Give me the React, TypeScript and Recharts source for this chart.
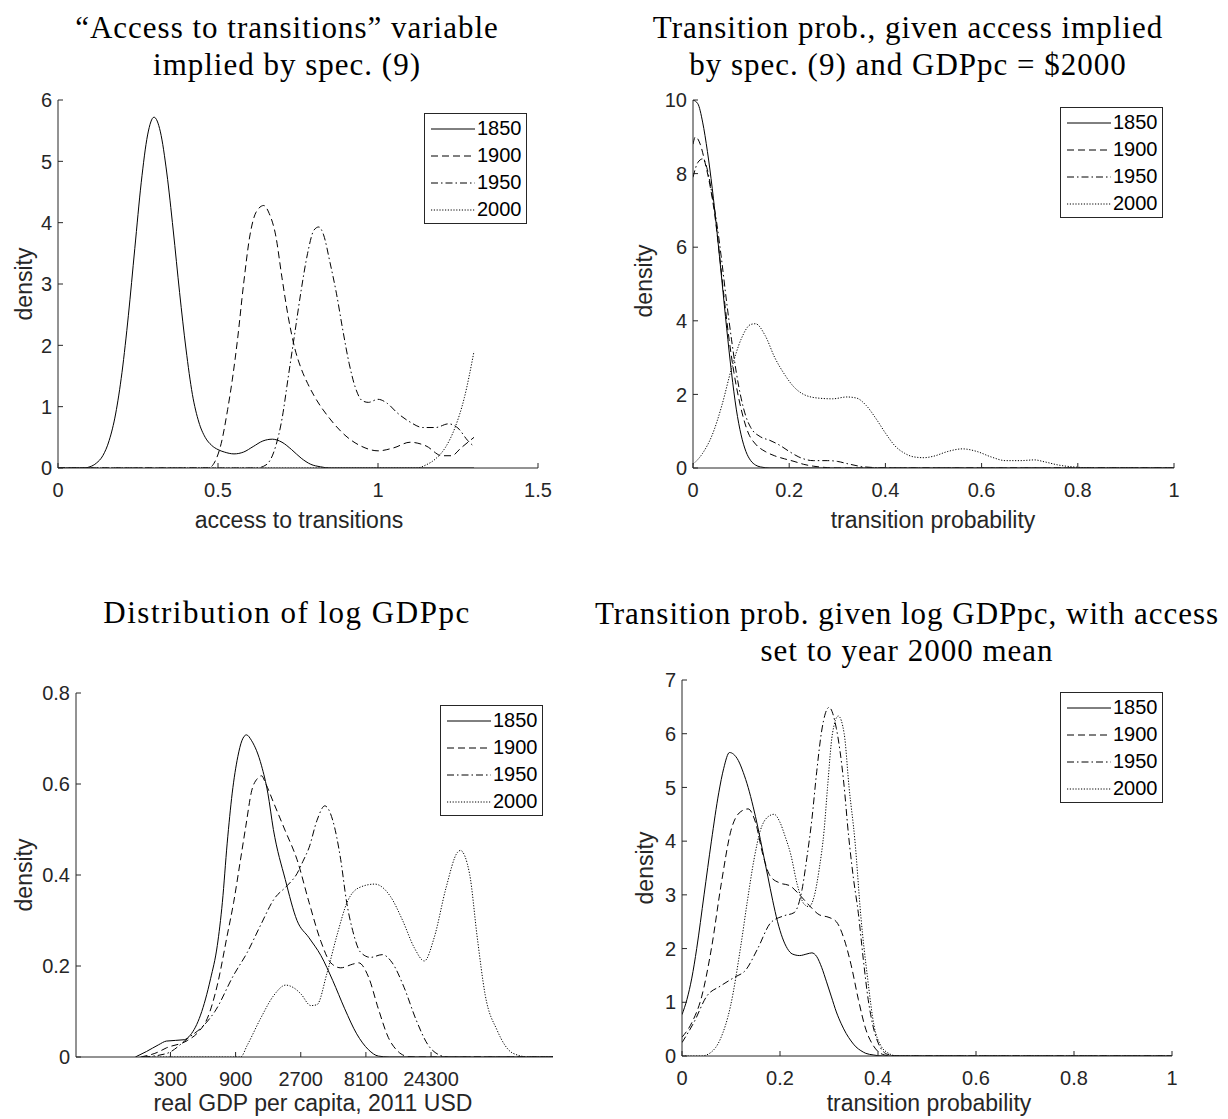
import React from "react";
import { LineChart, Line, XAxis, YAxis } from "recharts";

// [x, density] pairs, one array per year and panel
const access1850 = [[0,0],[0.08,0],[0.1,0.02],[0.12,0.08],[0.14,0.2],[0.16,0.45],[0.18,0.88],[0.2,1.56],[0.22,2.49],[0.24,3.58],[0.26,4.65],[0.28,5.43],[0.3,5.72],[0.32,5.48],[0.34,4.81],[0.36,3.88],[0.38,2.86],[0.4,1.94],[0.42,1.2],[0.44,0.75],[0.46,0.5],[0.48,0.37],[0.5,0.3],[0.52,0.26],[0.55,0.23],[0.58,0.26],[0.61,0.35],[0.64,0.44],[0.67,0.47],[0.7,0.42],[0.73,0.3],[0.76,0.16],[0.79,0.06],[0.82,0.02],[0.85,0],[1.3,0]];
const access1900 = [[0,0],[0.47,0],[0.49,0.1],[0.51,0.4],[0.53,0.95],[0.545,1.45],[0.56,2.05],[0.58,3.0],[0.6,3.8],[0.62,4.18],[0.643,4.28],[0.66,4.15],[0.68,3.8],[0.7,3.1],[0.72,2.45],[0.74,1.95],[0.76,1.62],[0.78,1.38],[0.8,1.18],[0.85,0.8],[0.9,0.52],[0.95,0.35],[1.0,0.28],[1.05,0.33],[1.1,0.42],[1.15,0.36],[1.2,0.2],[1.23,0.2],[1.26,0.33],[1.3,0.5]];
const access1950 = [[0,0],[0.62,0],[0.65,0.05],[0.68,0.35],[0.7,0.8],[0.72,1.5],[0.74,2.2],[0.76,2.9],[0.78,3.5],[0.8,3.88],[0.815,3.93],[0.83,3.8],[0.85,3.35],[0.87,2.85],[0.89,2.25],[0.91,1.7],[0.93,1.3],[0.95,1.1],[0.97,1.07],[1.0,1.12],[1.03,1.05],[1.06,0.9],[1.1,0.75],[1.14,0.66],[1.18,0.66],[1.22,0.72],[1.25,0.65],[1.28,0.45],[1.3,0.35]];
const access2000 = [[0,0],[1.12,0],[1.15,0.05],[1.18,0.15],[1.21,0.33],[1.24,0.65],[1.27,1.15],[1.3,1.9]];

const spec1850 = [[0,10],[0.01,9.9],[0.02,9.4],[0.03,8.6],[0.04,7.6],[0.05,6.4],[0.06,5.1],[0.07,3.8],[0.08,2.6],[0.09,1.6],[0.1,0.9],[0.11,0.45],[0.12,0.2],[0.13,0.08],[0.14,0.03],[0.16,0],[1,0]];
const spec1900 = [[0,8.8],[0.005,9.0],[0.015,8.8],[0.025,8.3],[0.035,7.7],[0.045,6.9],[0.055,5.8],[0.065,4.6],[0.075,3.5],[0.085,2.6],[0.095,1.9],[0.105,1.35],[0.115,0.95],[0.13,0.65],[0.15,0.45],[0.17,0.33],[0.19,0.25],[0.21,0.18],[0.23,0.1],[0.25,0.05],[0.28,0.01],[0.3,0],[1,0]];
const spec1950 = [[0,7.9],[0.01,8.3],[0.02,8.4],[0.03,8.1],[0.04,7.4],[0.05,6.6],[0.06,5.6],[0.07,4.5],[0.08,3.5],[0.09,2.6],[0.1,1.9],[0.11,1.4],[0.12,1.1],[0.14,0.85],[0.16,0.75],[0.18,0.62],[0.2,0.45],[0.22,0.3],[0.25,0.2],[0.28,0.2],[0.3,0.18],[0.32,0.12],[0.35,0.04],[0.38,0.01],[0.4,0],[1,0]];
const spec2000 = [[0,0.1],[0.02,0.4],[0.04,0.9],[0.06,1.7],[0.08,2.7],[0.1,3.5],[0.12,3.9],[0.13,3.92],[0.15,3.6],[0.17,3.0],[0.19,2.55],[0.21,2.2],[0.23,2.0],[0.26,1.9],[0.29,1.88],[0.32,1.93],[0.34,1.9],[0.36,1.7],[0.38,1.35],[0.4,0.95],[0.42,0.6],[0.44,0.4],[0.46,0.3],[0.48,0.28],[0.5,0.32],[0.53,0.45],[0.56,0.52],[0.59,0.45],[0.62,0.3],[0.65,0.2],[0.68,0.2],[0.71,0.22],[0.73,0.17],[0.76,0.08],[0.8,0.02],[0.84,0],[1,0]];

const gdp1850 = [[166,0],[200,0.012],[246,0.027],[280,0.035],[379,0.038],[419,0.048],[498,0.092],[590,0.172],[661,0.245],[720,0.34],[781,0.47],[850,0.58],[934,0.66],[1000,0.695],[1080,0.708],[1180,0.695],[1394,0.64],[1550,0.58],[1702,0.5],[2080,0.39],[2535,0.3],[3105,0.262],[3792,0.223],[4632,0.168],[5667,0.106],[6930,0.051],[8460,0.016],[9990,0.002],[12000,0],[190000,0]];
const gdp1900 = [[181,0],[240,0.01],[280,0.02],[398,0.036],[480,0.055],[559,0.085],[661,0.158],[781,0.267],[871,0.34],[979,0.435],[1070,0.508],[1180,0.585],[1300,0.612],[1394,0.618],[1500,0.6],[1702,0.56],[2080,0.497],[2535,0.434],[3105,0.34],[3792,0.254],[4478,0.207],[5295,0.196],[6480,0.204],[7170,0.207],[8460,0.176],[9990,0.106],[11820,0.043],[13950,0.012],[16500,0.001],[19000,0],[190000,0]];
const gdp1950 = [[190,0],[283,0.008],[398,0.04],[547,0.075],[634,0.1],[871,0.18],[1096,0.23],[1373,0.29],[1720,0.347],[2154,0.377],[2535,0.403],[2800,0.43],[3105,0.46],[3550,0.52],[4050,0.552],[4632,0.52],[5295,0.434],[5856,0.34],[6480,0.278],[7410,0.23],[8760,0.219],[10680,0.225],[12630,0.207],[15420,0.153],[18870,0.082],[23040,0.027],[28140,0.004],[32190,0],[190000,0]];
const gdp2000 = [[190,0],[979,0],[1096,0.026],[1373,0.085],[1720,0.136],[2094,0.158],[2400,0.152],[2700,0.139],[3200,0.113],[3550,0.115],[4200,0.184],[5000,0.27],[5900,0.34],[7200,0.372],[9400,0.38],[12300,0.352],[15000,0.301],[18400,0.239],[21700,0.211],[25600,0.262],[31300,0.372],[38000,0.45],[39800,0.454],[46500,0.403],[53000,0.262],[60500,0.137],[74000,0.059],[97000,0.008],[127000,0],[190000,0]];

const prob1850 = [[0,0.77],[0.01,1.05],[0.02,1.45],[0.03,2.0],[0.045,3.0],[0.06,4.0],[0.075,4.9],[0.085,5.35],[0.097,5.65],[0.105,5.62],[0.115,5.5],[0.125,5.28],[0.135,5.0],[0.145,4.65],[0.155,4.25],[0.165,3.8],[0.175,3.35],[0.185,2.9],[0.195,2.5],[0.205,2.2],[0.215,2.0],[0.225,1.9],[0.24,1.87],[0.255,1.9],[0.265,1.92],[0.275,1.85],[0.285,1.65],[0.295,1.38],[0.305,1.1],[0.315,0.82],[0.325,0.6],[0.335,0.42],[0.345,0.28],[0.355,0.17],[0.365,0.1],[0.375,0.05],[0.39,0.02],[0.41,0],[1,0]];
const prob1900 = [[0,0.35],[0.02,0.62],[0.04,1.1],[0.06,2.0],[0.08,3.2],[0.1,4.2],[0.12,4.55],[0.135,4.6],[0.15,4.35],[0.165,3.75],[0.18,3.35],[0.2,3.22],[0.22,3.17],[0.24,3.0],[0.26,2.8],[0.28,2.63],[0.3,2.58],[0.315,2.5],[0.33,2.2],[0.345,1.7],[0.36,1.05],[0.375,0.5],[0.39,0.2],[0.405,0.05],[0.42,0.01],[0.45,0],[1,0]];
const prob1950 = [[0,0.25],[0.024,0.62],[0.051,1.12],[0.078,1.3],[0.106,1.46],[0.13,1.6],[0.154,1.99],[0.181,2.48],[0.208,2.61],[0.229,2.67],[0.245,3.1],[0.255,3.7],[0.265,4.4],[0.275,5.3],[0.285,6.05],[0.3,6.49],[0.315,6.1],[0.33,5.1],[0.34,4.1],[0.35,3.3],[0.36,2.65],[0.37,1.8],[0.38,1.05],[0.39,0.55],[0.4,0.25],[0.41,0.09],[0.42,0.03],[0.44,0],[1,0]];
const prob2000 = [[0,0],[0.04,0],[0.058,0.06],[0.078,0.31],[0.099,0.93],[0.12,2.05],[0.133,2.86],[0.147,3.66],[0.16,4.2],[0.175,4.45],[0.188,4.5],[0.2,4.35],[0.21,4.1],[0.222,3.75],[0.235,3.2],[0.249,2.83],[0.259,2.78],[0.27,2.98],[0.28,3.48],[0.29,4.2],[0.297,5.0],[0.307,6.0],[0.319,6.33],[0.331,6.0],[0.341,5.0],[0.353,4.0],[0.365,2.6],[0.379,1.43],[0.392,0.56],[0.406,0.19],[0.42,0.06],[0.44,0],[1,0]];

const years = ["1850", "1900", "1950", "2000"];
const accessTicksX = [0, 0.5, 1, 1.5];
const accessTicksY = [0, 1, 2, 3, 4, 5, 6];
const specTicksX = [0, 0.2, 0.4, 0.6, 0.8, 1];
const specTicksY = [0, 2, 4, 6, 8, 10];
const gdpTicksX = [300, 900, 2700, 8100, 24300];
const gdpTicksY = [0, 0.2, 0.4, 0.6, 0.8];
const probTicksX = [0, 0.2, 0.4, 0.6, 0.8, 1];
const probTicksY = [0, 1, 2, 3, 4, 5, 6, 7];

const dashes: Record<string, string | undefined> = {
  "1850": undefined,
  "1900": "7 4",
  "1950": "7 3 1.5 3",
  "2000": "1.2 1.6",
};

const AX = "#262626";
const SANS = "'Liberation Sans', Arial, Helvetica, sans-serif";
const SERIF = "'Liberation Serif', 'Times New Roman', serif";

const toRows = (pts: number[][]) => pts.map(([x, y]) => ({ x, y }));

// tick labels drawn as plain svg text so the font size sticks
const xTick = (p: any) => (
  <text x={p.x} y={p.y} dy="0.71em" textAnchor="middle" fill={AX} fontSize={20} fontFamily={SANS}>
    {String(p.payload.value)}
  </text>
);
const yTick = (p: any) => (
  <text x={p.x} y={p.y} dy="0.36em" textAnchor="end" fill={AX} fontSize={20} fontFamily={SANS}>
    {String(p.payload.value)}
  </text>
);

type Box = { left: number; right: number; top: number; bottom: number };

function Panel(props: {
  left: number; top: number; width: number; height: number; plot: Box;
  xDomain: number[]; xTicks: number[]; yDomain: number[]; yTicks: number[];
  xScale?: "log" | "linear"; series: number[][][];
}) {
  const { left, top, width, height, plot } = props;
  return (
    <div style={{ position: "absolute", left, top }}>
      <LineChart width={width} height={height} margin={{ top: plot.top, right: width - plot.right, left: 0, bottom: 0 }}>
        <XAxis
          type="number" dataKey="x" domain={props.xDomain} ticks={props.xTicks}
          scale={props.xScale || "linear"} allowDataOverflow interval={0}
          height={height - plot.bottom} tickSize={-5} tickMargin={20}
          stroke={AX} tick={xTick}
        />
        <YAxis
          type="number" domain={props.yDomain} ticks={props.yTicks} allowDataOverflow interval={0}
          width={plot.left} tickSize={-5} tickMargin={11} stroke={AX} tick={yTick}
        />
        {props.series.map((pts, i) => (
          <Line
            key={years[i]} name={years[i]} data={toRows(pts)} dataKey="y" type="monotone"
            stroke="#000" strokeWidth={1} strokeDasharray={dashes[years[i]]}
            dot={false} activeDot={false} isAnimationActive={false}
          />
        ))}
      </LineChart>
    </div>
  );
}

function Key({ left, top }: { left: number; top: number }) {
  return (
    <div style={{ position: "absolute", left, top, width: 103, height: 111, boxSizing: "border-box", border: `1px solid ${AX}`, background: "#fff", paddingTop: 1 }}>
      {years.map((yr) => (
        <div key={yr} style={{ display: "flex", alignItems: "center", height: 27 }}>
          <svg width={44} height={10} style={{ marginLeft: 6 }}>
            <line x1={0} y1={5} x2={44} y2={5} stroke="#000" strokeWidth={1} strokeDasharray={dashes[yr]} />
          </svg>
          <span style={{ fontFamily: SANS, fontSize: 20, marginLeft: 2, lineHeight: "27px", color: "#000" }}>{yr}</span>
        </div>
      ))}
    </div>
  );
}

function Title({ cx, top, lines, spacing = 1 }: { cx: number; top: number; lines: string[]; spacing?: number }) {
  return (
    <div style={{ position: "absolute", left: cx - 400, top, width: 800, textAlign: "center", fontFamily: SERIF, fontSize: 31, lineHeight: "37px", letterSpacing: spacing, whiteSpace: "pre", color: "#000" }}>
      {lines.map((l) => <div key={l}>{l}</div>)}
    </div>
  );
}

function XLabel({ cx, top, text }: { cx: number; top: number; text: string }) {
  return (
    <div style={{ position: "absolute", left: cx - 200, top, width: 400, textAlign: "center", fontFamily: SANS, fontSize: 23, lineHeight: "22px", color: AX }}>{text}</div>
  );
}

function YLabel({ cx, cy }: { cx: number; cy: number }) {
  return (
    <div style={{ position: "absolute", left: cx - 50, top: cy - 12, width: 100, height: 24, textAlign: "center", fontFamily: SANS, fontSize: 23, lineHeight: "24px", color: AX, transform: "rotate(-90deg)" }}>density</div>
  );
}

export default function App() {
  return (
    <div style={{ position: "absolute", left: 0, top: 0, width: 1228, height: 1119, background: "#fff", overflow: "hidden" }}>
      <Panel left={0} top={0} width={614} height={560} plot={{ left: 58, right: 538, top: 100, bottom: 468 }}
        xDomain={[0, 1.5]} xTicks={accessTicksX} yDomain={[0, 6]} yTicks={accessTicksY}
        series={[access1850, access1900, access1950, access2000]} />
      <Panel left={614} top={0} width={614} height={560} plot={{ left: 79, right: 560, top: 100, bottom: 468 }}
        xDomain={[0, 1]} xTicks={specTicksX} yDomain={[0, 10]} yTicks={specTicksY}
        series={[spec1850, spec1900, spec1950, spec2000]} />
      <Panel left={0} top={560} width={614} height={559} plot={{ left: 76, right: 553, top: 133, bottom: 497 }}
        xDomain={[61, 190000]} xTicks={gdpTicksX} xScale="log" yDomain={[0, 0.8]} yTicks={gdpTicksY}
        series={[gdp1850, gdp1900, gdp1950, gdp2000]} />
      <Panel left={614} top={560} width={614} height={559} plot={{ left: 68, right: 558, top: 120, bottom: 496 }}
        xDomain={[0, 1]} xTicks={probTicksX} yDomain={[0, 7]} yTicks={probTicksY}
        series={[prob1850, prob1900, prob1950, prob2000]} />

      <Title cx={287} top={9} lines={["\u201cAccess to transitions\u201d variable", "implied by spec. (9)"]} />
      <Title cx={908} top={9} lines={["Transition prob., given access implied", "by spec. (9) and GDPpc = $2000"]} />
      <Title cx={287} top={594} spacing={1.5} lines={["Distribution of log GDPpc"]} />
      <Title cx={907} top={595} lines={["Transition prob. given log GDPpc, with access", "set to year 2000 mean"]} />

      <XLabel cx={299} top={509} text="access to transitions" />
      <XLabel cx={933} top={509} text="transition probability" />
      <XLabel cx={313} top={1092} text="real GDP per capita, 2011 USD" />
      <XLabel cx={929} top={1092} text="transition probability" />

      <YLabel cx={24} cy={284} />
      <YLabel cx={644} cy={281} />
      <YLabel cx={24} cy={875} />
      <YLabel cx={645} cy={868} />

      <Key left={424} top={113} />
      <Key left={1060} top={107} />
      <Key left={440} top={705} />
      <Key left={1060} top={692} />
    </div>
  );
}
